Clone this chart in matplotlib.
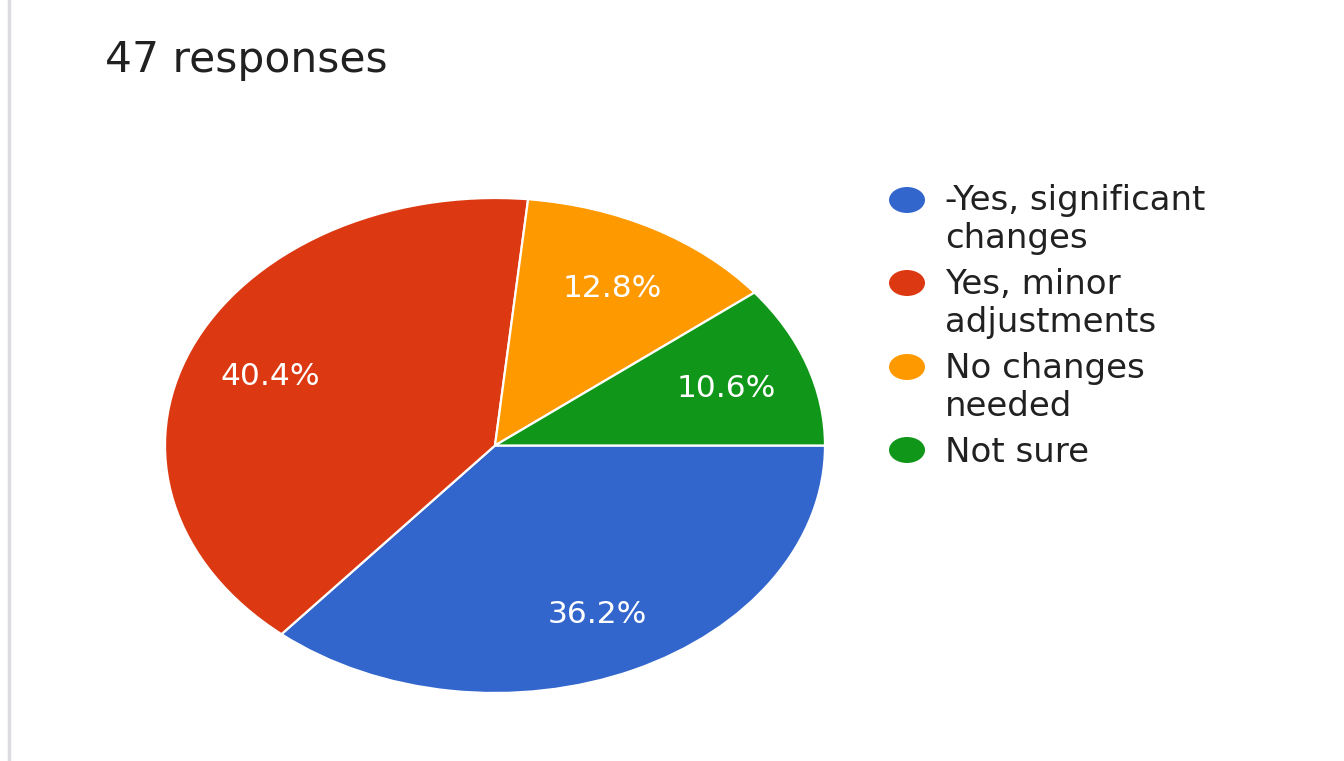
import matplotlib
matplotlib.use("Agg")
import matplotlib.pyplot as plt
from matplotlib.patches import Ellipse
from matplotlib.lines import Line2D

# ---- data ----
title_text = "47 responses"
categories = ["-Yes, significant\nchanges", "Yes, minor\nadjustments", "No changes\nneeded", "Not sure"]
percent_values = [36.2, 40.4, 12.8, 10.6]
slice_colors = ["#3366cc", "#dc3912", "#ff9900", "#109618"]

W, H = 1344, 761
fig = plt.figure(figsize=(W / 100, H / 100), dpi=100)
fig.patch.set_facecolor("white")

FONT = "DejaVu Sans"

# pie axes (stretched horizontally, like the reference)
px_l, px_r, px_t, px_b = 165, 825, 198, 693
ax = fig.add_axes([px_l / W, 1 - px_b / H, (px_r - px_l) / W, (px_b - px_t) / H])
wedges, texts, autotexts = ax.pie(
    percent_values,
    colors=slice_colors,
    startangle=0,
    counterclock=False,
    autopct=lambda p: f"{p:.1f}%",
    pctdistance=0.74,
    radius=1.0,
    wedgeprops=dict(edgecolor="white", linewidth=1.6),
    textprops=dict(color="white", fontsize=22.5, family=FONT, va="center_baseline"),
)
ax.set_aspect("auto")
ax.set_xlim(-1, 1)
ax.set_ylim(-1, 1)
ax.axis("off")

# left grey rule
fig.add_artist(Line2D([9 / W, 9 / W], [0, 1], color="#dadce0", linewidth=2.5,
                      transform=fig.transFigure))

# title
fig.text(105 / W, 1 - 72 / H, title_text, fontsize=30.5, color="#212121",
         family=FONT, ha="left", va="baseline")

# legend (manual)
marker_y = [200, 283, 367, 450]
first_baseline = [210, 294, 378, 462]
line_step = 38
for i, (lab, col) in enumerate(zip(categories, slice_colors)):
    e = Ellipse((907 / W, 1 - marker_y[i] / H), 36 / W, 26 / H,
                transform=fig.transFigure, facecolor=col, edgecolor="none")
    fig.add_artist(e)
    for j, line in enumerate(lab.split("\n")):
        fig.text(945 / W, 1 - (first_baseline[i] + j * line_step) / H, line,
                 fontsize=24.5, color="#212121", family=FONT,
                 ha="left", va="baseline")

fig.savefig("out.png", dpi=100, facecolor="white")
